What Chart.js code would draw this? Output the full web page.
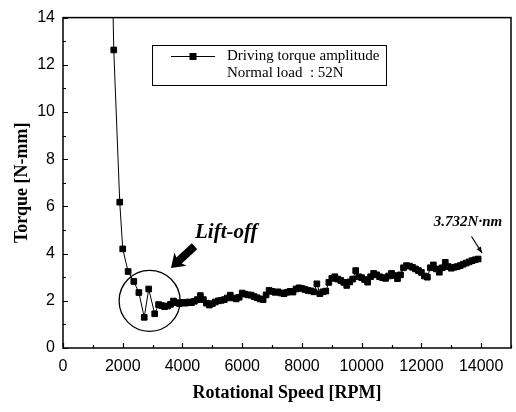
<!DOCTYPE html>
<html>
<head>
<meta charset="utf-8">
<script src="https://cdn.jsdelivr.net/npm/chart.js@4.4.1/dist/chart.umd.min.js"></script>
<style>
html,body{margin:0;padding:0;background:#fff;}
#wrap{width:516px;height:412px;}
</style>
</head>
<body>
<div id="wrap"><canvas id="c" width="516" height="412"></canvas></div>
<script>
const rpm = [1600,1700,1900,2000,2180,2370,2540,2720,2870,3070,
 3200,3300,3400,3500,3600,3700,3800,3900,4000,4100,4200,4300,4400,4500,4600,4700,4800,4900,
 5000,5100,5200,5300,5400,5500,5600,5700,5800,5900,6000,6100,6200,6300,6400,6500,6600,6700,6800,6900,
 7000,7100,7200,7300,7400,7500,7600,7700,7800,7900,8000,8100,8200,8300,8400,8500,8600,8700,8800,8900,
 9000,9100,9200,9300,9400,9500,9600,9700,9800,9900,10000,10100,10200,10300,10400,10500,10600,10700,10800,10900,
 11000,11100,11200,11300,11400,11500,11600,11700,11800,11900,12000,12100,12200,12300,12400,12500,12600,12700,12800,12900,
 13000,13100,13200,13300,13400,13500,13600,13700,13800,13900];
const torque = [19.0,12.63,6.18,4.20,3.24,2.82,2.35,1.30,2.50,1.45,
 1.84,1.80,1.75,1.78,1.85,1.99,1.92,1.88,1.93,1.90,1.95,1.92,1.98,2.05,2.22,2.05,1.90,1.82,
 1.88,1.95,2.00,2.02,2.05,2.12,2.24,2.12,2.08,2.15,2.33,2.28,2.25,2.24,2.18,2.13,2.08,2.05,2.25,2.44,
 2.40,2.36,2.38,2.33,2.30,2.36,2.40,2.37,2.50,2.55,2.52,2.48,2.44,2.42,2.38,2.72,2.30,2.38,2.41,2.78,
 2.95,3.02,2.92,2.86,2.78,2.65,2.80,2.92,3.28,3.02,2.98,2.90,2.79,3.02,3.16,3.10,3.02,2.98,2.95,3.05,
 3.16,3.07,2.94,3.10,3.40,3.49,3.47,3.42,3.35,3.28,3.20,3.05,3.00,3.40,3.52,3.35,3.21,3.40,3.63,3.45,
 3.38,3.42,3.45,3.49,3.55,3.60,3.65,3.70,3.74,3.77];
const xTicks = [0,2000,4000,6000,8000,10000,12000,14000];
const yTicks = [0,2,4,6,8,10,12,14];
const seriesLabel = 'Driving torque amplitude';
const loadLabel = 'Normal load  : 52N';
const liftLabel = 'Lift-off';
const endLabel = '3.732N\u00B7nm';
const xTitle = 'Rotational Speed [RPM]';
const yTitle = 'Torque [N-mm]';

const points = rpm.map((v,i)=>({x:v,y:torque[i]}));

const deco = {
  id:'deco',
  afterDatasetsDraw(chart){
    const ctx = chart.ctx, a = chart.chartArea;
    const xs = chart.scales.x, ys = chart.scales.y;
    ctx.save();
    ctx.strokeStyle='#000'; ctx.lineWidth=1.5;
    ctx.strokeRect(a.left, a.top, a.right-a.left, a.bottom-a.top);
    ctx.lineWidth=1.2;
    ctx.beginPath();
    for(let v=0; v<=15000; v+=1000){
      const px = Math.round(xs.getPixelForValue(v))+0.5;
      const len = (v%2000===0)?5:3;
      ctx.moveTo(px,a.bottom); ctx.lineTo(px,a.bottom-len);
    }
    for(let v=0; v<=14; v+=1){
      const py = Math.round(ys.getPixelForValue(v))+0.5;
      const len = (v%2===0)?5:3;
      ctx.moveTo(a.left,py); ctx.lineTo(a.left+len,py);
    }
    ctx.stroke();
    // legend box
    ctx.lineWidth=1;
    ctx.strokeRect(152.5,45.5,234,40);
    ctx.beginPath(); ctx.moveTo(171,56.5); ctx.lineTo(215,56.5); ctx.stroke();
    ctx.fillStyle='#000'; ctx.fillRect(189.5,53,7,7);
    ctx.font='15px "Liberation Serif", serif';
    ctx.textBaseline='middle'; ctx.textAlign='left';
    ctx.fillText(seriesLabel,227,56);
    ctx.fillText(loadLabel,227,73);
    // circle
    const cx = xs.getPixelForValue(2900), cy = ys.getPixelForValue(2.0);
    ctx.lineWidth=1.3;
    ctx.beginPath(); ctx.arc(cx,cy,30.5,0,Math.PI*2); ctx.stroke();
    // lift-off label
    ctx.font='italic bold 21px "Liberation Serif", serif';
    ctx.textAlign='left';
    ctx.fillText(liftLabel,195,233);
    // thick arrow
    ctx.save();
    ctx.translate(171,268);
    ctx.rotate(Math.atan2(244-268,197-171));
    ctx.beginPath();
    ctx.moveTo(0,0); ctx.lineTo(13,-9); ctx.lineTo(11,-4); ctx.lineTo(32,-4);
    ctx.lineTo(32,4); ctx.lineTo(11,4); ctx.lineTo(13,9); ctx.closePath();
    ctx.fill();
    ctx.restore();
    // end label
    ctx.font='italic bold 15px "Liberation Serif", serif';
    ctx.textAlign='center';
    ctx.fillText(endLabel,468,222);
    ctx.lineWidth=1.2;
    ctx.beginPath(); ctx.moveTo(471.5,236.5); ctx.lineTo(482,253); ctx.stroke();
    ctx.save(); ctx.translate(482,253); ctx.rotate(Math.atan2(253-236.5,482-471.5));
    ctx.beginPath(); ctx.moveTo(0,0); ctx.lineTo(-6,-2.5); ctx.lineTo(-6,2.5); ctx.closePath(); ctx.fill();
    ctx.restore();
    ctx.restore();
  }
};

new Chart(document.getElementById('c'), {
  type:'line',
  data:{datasets:[{
    label:seriesLabel, data:points, borderColor:'#000', backgroundColor:'#000',
    borderWidth:1, pointStyle:'rect', pointRadius:4, pointBorderWidth:1,
    pointBackgroundColor:'#000', pointBorderColor:'#000', tension:0
  }]},
  options:{
    responsive:false, animation:false, devicePixelRatio:1,
    layout:{padding:{top:15,right:1,left:0,bottom:0}},
    plugins:{legend:{display:false}, tooltip:{enabled:false}},
    scales:{
      x:{type:'linear', min:0, max:15000,
        afterBuildTicks(s){ s.ticks = xTicks.map(v=>({value:v})); },
        afterFit(s){ s.height = 64; },
        grid:{display:false, drawTicks:false}, border:{display:false},
        ticks:{padding:9, color:'#000', maxRotation:0, autoSkip:false,
          font:{family:'"Liberation Sans", Arial, sans-serif', size:16},
          callback:(v)=>String(v)},
        title:{display:true, text:xTitle, color:'#000', padding:{top:0,bottom:8},
          font:{family:'"Liberation Serif", serif', size:18, weight:'bold'}}
      },
      y:{type:'linear', min:0, max:14,
        afterBuildTicks(s){ s.ticks = yTicks.map(v=>({value:v})); },
        afterFit(s){ s.width = 63; },
        grid:{display:false, drawTicks:false}, border:{display:false},
        ticks:{padding:8, color:'#000', autoSkip:false,
          font:{family:'"Liberation Sans", Arial, sans-serif', size:16},
          callback:(v)=>String(v)},
        title:{display:true, text:yTitle, color:'#000', padding:{top:12,bottom:0},
          font:{family:'"Liberation Serif", serif', size:18, weight:'bold'}}
      }
    }
  },
  plugins:[deco]
});
</script>
</body>
</html>
